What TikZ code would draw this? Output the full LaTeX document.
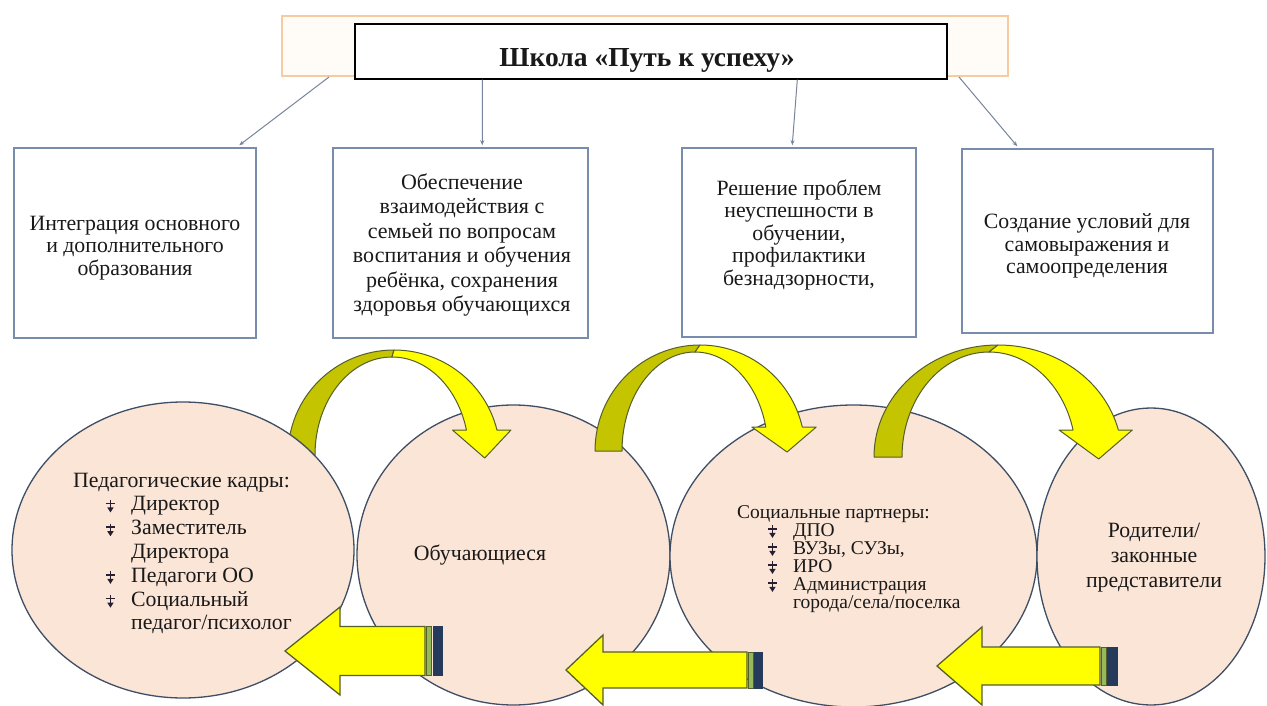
\documentclass[tikz,border=0pt]{standalone}
\usepackage{fontspec}
\setmainfont{Liberation Serif}
\usetikzlibrary{shapes.geometric,arrows.meta,calc}
\definecolor{bgline}{RGB}{244,204,160}
\definecolor{bgfill}{RGB}{255,251,246}
\definecolor{boxline}{RGB}{120,140,172}
\definecolor{connc}{RGB}{120,132,155}
\definecolor{circfill}{RGB}{251,229,215}
\definecolor{circline}{RGB}{62,78,100}
\definecolor{ybright}{RGB}{255,255,0}
\definecolor{ydark}{RGB}{196,196,0}
\definecolor{yline}{RGB}{85,95,40}
\definecolor{stripeg}{RGB}{150,185,90}
\definecolor{stripen}{RGB}{38,58,92}
\definecolor{textc}{RGB}{25,25,25}
\definecolor{bulc}{RGB}{40,30,50}
\newcommand\cbul{\tikz[x=1pt,y=1pt,baseline=0pt,line width=1.5pt]{\draw[bulc] (0,11)--(0,2);\draw[bulc] (-4.5,7.5)--(4.5,7.5);\fill[bulc] (-3.2,3.5)--(3.2,3.5)--(0,-1.5)--cycle;}}
\newcommand\itA[1]{\makebox[58pt][l]{\hspace*{32pt}\cbul}#1}
\newcommand\itB[1]{\makebox[56pt][l]{\hspace*{30pt}\cbul}#1}
% curved arrow: #1 cxo #2 rxo #3 ryo #4 cxi #5 rxi #6 ryi #7 base y #8 head base y #9 tip y
\newcommand\yarc[9]{%
 \pgfmathsetmacro\yAo{asin((#7-#8)/#3)}%
 \pgfmathsetmacro\yAi{asin((#7-#8)/#6)}%
 \pgfmathsetmacro\yOx{#1+#2*cos(\yAo)}%
 \pgfmathsetmacro\yIx{#4+#5*cos(\yAi)}%
 \pgfmathsetmacro\yTx{(\yOx+\yIx)/2+3}%
 \pgfmathsetmacro\yTo{360-\yAo}%
 \pgfmathsetmacro\yTi{360-\yAi}%
 \filldraw[arcleg] (#1-#2,#7) arc[start angle=180,end angle=270,x radius=#2,y radius=#3]
   -- (#4,#7-#6) arc[start angle=270,end angle=180,x radius=#5,y radius=#6] -- cycle;
 \filldraw[arcbody] (#1,#7-#3) arc[start angle=270,end angle=\yTo,x radius=#2,y radius=#3]
   -- (\yOx+14,#8) -- (\yTx,#9) -- (\yIx-14,#8) -- (\yIx,#8)
   arc[start angle=\yTi,end angle=270,x radius=#5,y radius=#6] -- cycle;
}
\begin{document}
\begin{tikzpicture}[x=1pt,y=-1pt,font=\fontsize{21.8}{23.5}\selectfont,
  box/.style={draw=boxline,line width=1.5pt,fill=white,inner sep=0pt},
  circ/.style={ellipse,draw=circline,line width=1.3pt,fill=circfill,inner sep=0pt},
  conn/.style={draw=connc,line width=1pt,-{Stealth[length=5pt,width=4pt]}},
  txt/.style={inner sep=0pt,text=textc},
  arcleg/.style={fill=ydark,draw=yline,line width=1pt,line join=round},
  arcbody/.style={fill=ybright,draw=yline,line width=1pt,line join=round},
  blk/.style={fill=ybright,draw=yline,line width=1.3pt},
  stg/.style={fill=stripeg,draw=yline,line width=0.8pt},
  stn/.style={fill=stripen,draw=stripen,line width=0.8pt}]
\useasboundingbox (0,0) rectangle (1267,706);
\fill[white] (0,0) rectangle (1267,706);
% header
\node[draw=bgline,fill=bgfill,line width=2pt,minimum width=726pt,minimum height=60pt,inner sep=0pt] (bg) at (645,46) {};
\node[draw=black,fill=white,line width=1.4pt,minimum width=592pt,minimum height=55pt,inner sep=0pt] (title) at (651,51.5) {};
\node[txt,font=\bfseries\fontsize{27.5}{30}\selectfont,anchor=base] (ttext) at (647,67) {Школа «Путь к успеху»};
% boxes
\node[box,minimum width=242pt,minimum height=190pt] (b1) at (135,243) {};
\node[box,minimum width=255pt,minimum height=190pt] (b2) at (460.5,243) {};
\node[box,minimum width=234pt,minimum height=189pt] (b3) at (799,242.5) {};
\node[box,minimum width=251pt,minimum height=184pt] (b4) at (1087.5,241) {};
\node[txt,align=center,font=\fontsize{21.8}{22.5}\selectfont] (t1) at (135,248) {Интеграция основного\\и дополнительного\\образования};
\node[txt,align=center,font=\fontsize{22}{24.5}\selectfont] (t2) at (462,245) {Обеспечение\\взаимодействия с\\семьей по вопросам\\воспитания и обучения\\ребёнка, сохранения\\здоровья обучающихся};
\node[txt,align=center,font=\fontsize{21.8}{22.5}\selectfont] (t3) at (799,235) {Решение проблем\\неуспешности в\\обучении,\\профилактики\\безнадзорности,};
\node[txt,align=center,font=\fontsize{21.8}{22.5}\selectfont] (t4) at (1087,246) {Создание условий для\\самовыражения и\\самоопределения};
% connectors
\draw[conn] ($(bg.south west)+(48,0)$) -- ($(b1.north west)+(226,-2)$);
\draw[conn] ($(title.south west)+(128,0)$) -- ($(b2.north west)+(150,-2)$);
\draw[conn] ($(title.south west)+(443,0)$) -- ($(b3.north west)+(111,-2)$);
\draw[conn] ($(bg.south east)+(-50,0)$) -- ($(b4.north west)+(56,-2)$);
% circles
\node[circ,minimum width=313pt,minimum height=300pt] (c2) at (513.5,555) {};
\node[circ,minimum width=367pt,minimum height=302pt] (c3) at (853.5,556) {};
\node[circ,minimum width=228pt,minimum height=297pt] (c4) at (1151,556.5) {};
% curved arrows
\yarc{394}{106}{105}{392}{77}{98}{455}{430}{458}
\yarc{700}{105}{106}{695}{73}{99}{451}{427}{452}
\yarc{998}{124}{112}{989}{87}{105}{457}{430}{459}
\node[circ,minimum width=342pt,minimum height=296pt] (c1) at (183,550) {};
% circle texts
\node[txt,anchor=west,align=left,font={\fontsize{21.8}{23.8}\selectfont}] (c1t) at (73,553.5) {Педагогические кадры:\\\itA{Директор}\\\itA{Заместитель}\\\hspace*{58pt}Директора\\\itA{Педагоги ОО}\\\itA{Социальный}\\\hspace*{58pt}педагог/психолог};
\node[txt] (c2t) at (480,555) {Обучающиеся};
\node[txt,anchor=west,align=left,font={\fontsize{19.5}{18}\selectfont\lineskiplimit=-50pt}] (c3t) at (737,559) {Социальные партнеры:\\\itB{ДПО}\\\itB{ВУЗы, СУЗы,}\\\itB{ИРО}\\\itB{Администрация}\\\hspace*{56pt}города/села/поселка};
\node[txt,align=center,font=\fontsize{21.8}{25}\selectfont] (c4t) at (1154,558) {Родители/\\законные\\представители};
% block arrows
\filldraw[blk] (285,651) -- (340,607) -- (340,626.5) -- (425,626.5) -- (425,675.5) -- (340,675.5) -- (340,695) -- cycle;
\filldraw[stg] (426.5,626.5) rectangle (431.5,675.5);
\filldraw[stn] (433,626.5) rectangle (442,675.5);
\filldraw[blk] (566,670) -- (603,635) -- (603,652) -- (747,652) -- (747,688) -- (603,688) -- (603,705) -- cycle;
\filldraw[stg] (748.5,652) rectangle (753,688);
\filldraw[stn] (754,652) rectangle (762,688);
\filldraw[blk] (937,666) -- (982,627) -- (982,647) -- (1100,647) -- (1100,685) -- (982,685) -- (982,705) -- cycle;
\filldraw[stg] (1101.5,647) rectangle (1106,685);
\filldraw[stn] (1107,647) rectangle (1117,685);
\end{tikzpicture}
\end{document}
